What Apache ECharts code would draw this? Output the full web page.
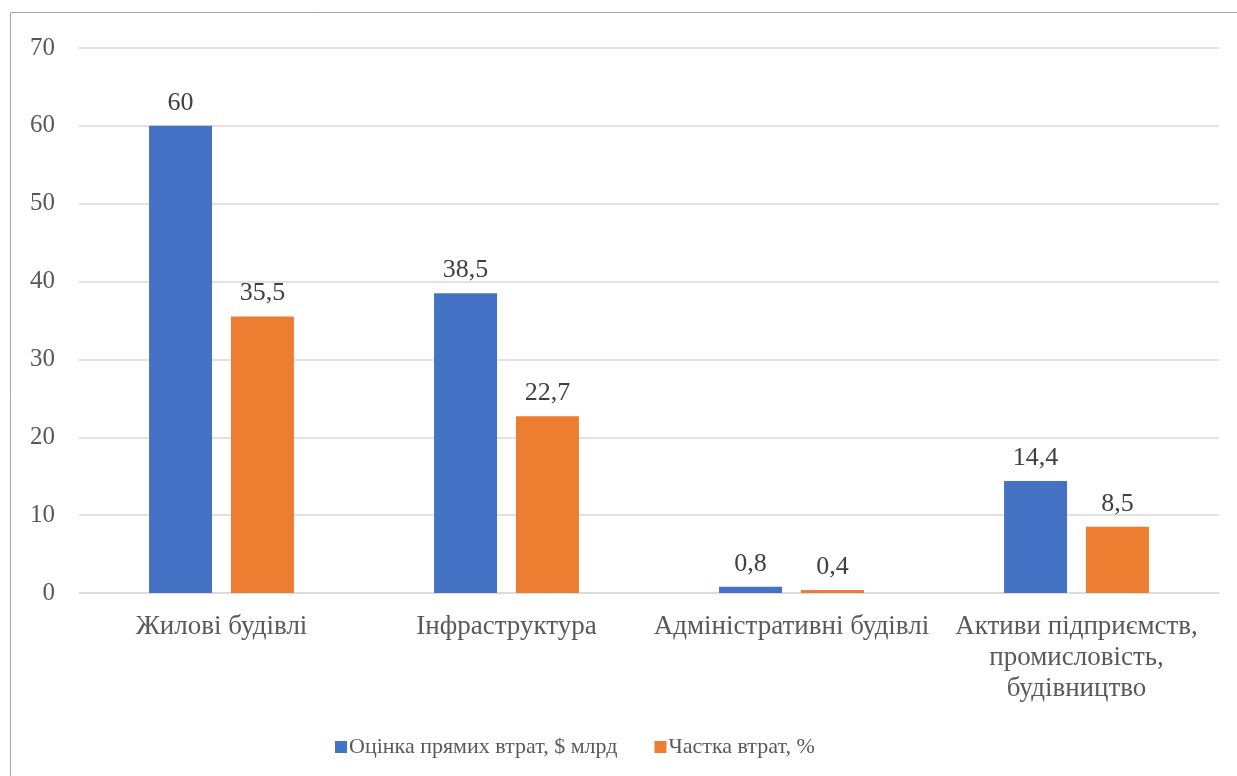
<!DOCTYPE html>
<html>
<head>
<meta charset="utf-8">
<script src="https://cdn.jsdelivr.net/npm/echarts@6/dist/echarts.min.js"></script>
<style>html,body{margin:0;padding:0;background:#fff}#c{width:1237px;height:776px}</style>
</head>
<body>
<div id="c"></div>
<script>
const categories = ['Жилові будівлі', 'Інфраструктура', 'Адміністративні будівлі', 'Активи підприємств,\nпромисловість,\nбудівництво'];
const lossValues = [60, 38.5, 0.8, 14.4];
const shareValues = [35.5, 22.7, 0.4, 8.5];
const seriesNames = ['Оцінка прямих втрат, $ млрд', 'Частка втрат, %'];
const yTicks = {min: 0, max: 70, interval: 10};

const font = 'Liberation Serif, Times New Roman, serif';
const txt = '#595959';
const chart = echarts.init(document.getElementById('c'));
const fmt = p => String(p.value).replace('.', ',');
chart.setOption({
  animation: false,
  graphic: [{type: 'rect', shape: {x: 10.5, y: 12.5, width: 1240, height: 780}, style: {fill: 'none', stroke: '#a6a6a6', lineWidth: 1}, silent: true}],
  grid: {left: 79, right: 18, top: 48, bottom: 183, containLabel: false},
  legend: {
    bottom: 13, left: 330, itemWidth: 12, itemHeight: 12, itemGap: 37, icon: 'rect',
    textStyle: {fontFamily: font, fontSize: 22, color: txt, padding: [0,0,0,-3]},
    data: seriesNames
  },
  xAxis: {
    type: 'category', data: categories,
    axisLine: {lineStyle: {color: '#d9d9d9', width: 1.5}},
    axisTick: {show: false},
    axisLabel: {fontFamily: font, fontSize: 27, color: txt, margin: 18, lineHeight: 31, interval: 0}
  },
  yAxis: {
    type: 'value', min: yTicks.min, max: yTicks.max, interval: yTicks.interval,
    axisLine: {show: false}, axisTick: {show: false},
    splitLine: {lineStyle: {color: '#d9d9d9', width: 1.5}},
    axisLabel: {fontFamily: font, fontSize: 25, color: txt, margin: 24}
  },
  series: [
    {name: seriesNames[0], type: 'bar', data: lossValues, barWidth: 63, barGap: '30%',
     itemStyle: {color: '#4472C4'},
     label: {show: true, position: 'top', distance: 10, formatter: fmt, fontFamily: font, fontSize: 26, color: '#404040'}},
    {name: seriesNames[1], type: 'bar', data: shareValues, barWidth: 63,
     itemStyle: {color: '#ED7D31'},
     label: {show: true, position: 'top', distance: 10, formatter: fmt, fontFamily: font, fontSize: 26, color: '#404040'}}
  ]
});
</script>
</body>
</html>
